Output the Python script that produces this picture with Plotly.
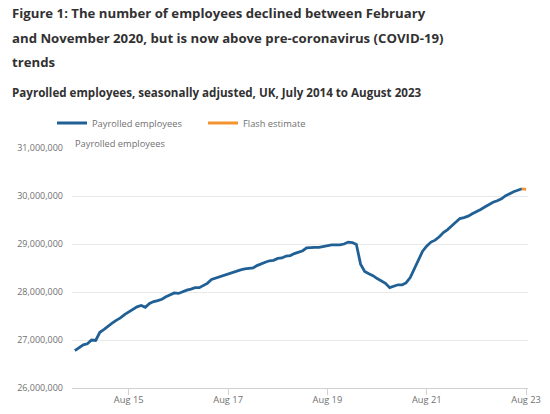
import pandas as pd
import plotly.graph_objects as go

# payrolled employees, seasonally adjusted, UK, monthly from July 2014 to August 2023
employees = [
    26780000, 26840000, 26900000, 26920000, 27000000, 26990000, 27160000, 27220000,
    27290000, 27350000, 27410000, 27460000, 27530000, 27580000, 27630000, 27690000,
    27720000, 27680000, 27760000, 27800000, 27820000, 27850000, 27900000, 27940000,
    27980000, 27970000, 28010000, 28040000, 28060000, 28090000, 28090000, 28140000,
    28180000, 28260000, 28290000, 28320000, 28350000, 28380000, 28410000, 28440000,
    28460000, 28480000, 28490000, 28500000, 28550000, 28590000, 28620000, 28650000,
    28660000, 28700000, 28710000, 28750000, 28760000, 28800000, 28830000, 28860000,
    28920000, 28930000, 28930000, 28930000, 28950000, 28970000, 28980000, 28980000,
    28980000, 29000000, 29040000, 29030000, 28990000, 28580000, 28430000, 28380000,
    28340000, 28280000, 28220000, 28180000, 28090000, 28120000, 28150000, 28150000,
    28190000, 28300000, 28480000, 28670000, 28850000, 28960000, 29040000, 29080000,
    29150000, 29240000, 29300000, 29380000, 29460000, 29530000, 29550000, 29580000,
    29630000, 29670000, 29720000, 29770000, 29820000, 29870000, 29900000, 29940000,
    30000000, 30050000, 30090000, 30120000, 30150000, 30140000,
]
months = pd.date_range("2014-07-01", periods=len(employees), freq="MS")

# last month is the flash estimate
flash_from = len(employees) - 2

tick_dates = ["2015-08-01", "2017-08-01", "2019-08-01", "2021-08-01", "2023-08-01"]
tick_labels = ["Aug 15", "Aug 17", "Aug 19", "Aug 21", "Aug 23"]
y_ticks = [26000000, 27000000, 28000000, 29000000, 30000000, 31000000]

title_lines = [
    "Figure 1: The number of employees declined between February",
    "and November 2020, but is now above pre-coronavirus (COVID-19)",
    "trends",
]
subtitle = "Payrolled employees, seasonally adjusted, UK, July 2014 to August 2023"

BLUE = "#206095"
ORANGE = "#f39431"
GREY = "#707070"
DARK = "#323132"
FONT = "Open Sans"

fig = go.Figure()
fig.add_trace(go.Scatter(x=months[:flash_from + 1], y=employees[:flash_from + 1],
                         mode="lines", name="Payrolled employees",
                         line=dict(color=BLUE, width=2.8)))
fig.add_trace(go.Scatter(x=months[flash_from:], y=employees[flash_from:],
                         mode="lines", name="Flash estimate",
                         line=dict(color=ORANGE, width=2.8)))

# plot area is 72..528 px wide, 148..388 px tall
L, R, T, B = 72, 22, 148, 26
W, H = 550 - L - R, 414 - T - B


def px_x(p):
    return (p - L) / W


def px_y(p):
    return (414 - B - p) / H


for i, line in enumerate(title_lines):
    fig.add_annotation(text="<b>" + line + "</b>", xref="paper", yref="paper",
                       x=px_x(10), y=px_y(13 + i * 24.5), xanchor="left", yanchor="middle",
                       showarrow=False, font=dict(family=FONT, size=13.2, color=DARK))
fig.add_annotation(text="<b>" + subtitle + "</b>", xref="paper", yref="paper",
                   x=px_x(10), y=px_y(93), xanchor="left", yanchor="middle",
                   showarrow=False, font=dict(family=FONT, size=11.6, color=DARK))
fig.add_annotation(text="Payrolled employees", xref="paper", yref="paper",
                   x=px_x(73), y=px_y(143), xanchor="left", yanchor="middle",
                   showarrow=False, font=dict(family=FONT, size=9.3, color=GREY))

fig.update_layout(
    width=550, height=414,
    margin=dict(l=L, r=R, t=T, b=B),
    paper_bgcolor="white", plot_bgcolor="white",
    font=dict(family=FONT, size=9.3, color=GREY),
    showlegend=True,
    legend=dict(orientation="h", x=px_x(52), y=px_y(123), xanchor="left", yanchor="middle",
                font=dict(size=9.3, color=GREY), entrywidth=106, entrywidthmode="pixels",
                bgcolor="rgba(0,0,0,0)"),
    xaxis=dict(type="date", range=["2014-06-10", "2023-08-15"],
               tickvals=tick_dates, ticktext=tick_labels,
               showgrid=False, zeroline=False, automargin=False,
               showline=True, linecolor="#d0d0d0", linewidth=1,
               ticks="outside", ticklen=6, tickcolor="#d0d0d0", ticklabelstandoff=-3,
               tickfont=dict(size=9.3, color=GREY)),
    yaxis=dict(range=[26000000, 31000000], tickvals=y_ticks, tickformat=",d",
               showgrid=True, gridcolor="#e8e8e8", gridwidth=1, zeroline=False,
               automargin=False, showline=False, ticks="", ticklabelstandoff=8,
               tickfont=dict(size=9, color=GREY)),
)

# page body has a default 8px margin; drop it so the figure fills the window
fig.write_html("out.html", config={"displayModeBar": False},
               post_script="document.body.style.margin = '0';")
